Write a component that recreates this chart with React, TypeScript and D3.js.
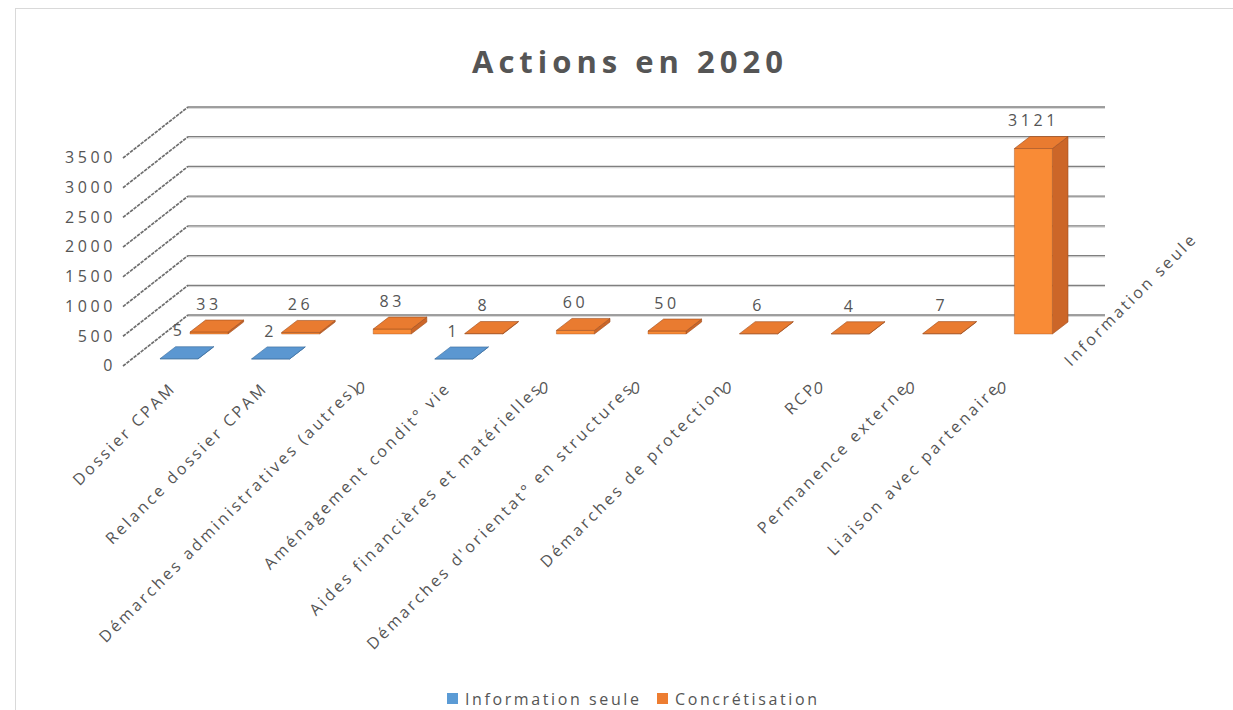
import React from "react";
import * as d3 from "d3";

const categories = [
  "Dossier CPAM",
  "Relance dossier CPAM",
  "Démarches administratives (autres)",
  "Aménagement condit°  vie",
  "Aides financières et matérielles",
  "Démarches d'orientat°  en structures",
  "Démarches de protection",
  "RCP",
  "Permanence externe",
  "Liaison avec partenaire",
];
const infoSeule = [5, 2, 0, 1, 0, 0, 0, 0, 0, 0];
const concretisation = [33, 26, 83, 8, 60, 50, 6, 4, 7, 3121];
const yTicks = [0, 500, 1000, 1500, 2000, 2500, 3000, 3500];
const seriesNames = ["Information seule", "Concrétisation"];

const W = 1233;
const H = 710;
const FONT = "'Open Sans', 'Noto Sans', sans-serif";
const TXT = "#555555";

// back wall vertical scale
const yBack = d3.scaleLinear().domain([0, 3500]).range([315, 107]);
// category position (front-left x of the front row bar)
const xCat = d3.scalePoint<string>().domain(categories).range([160, 160 + 9 * 91.6]);

// depth projection
const WALL_DX = 65;
const WALL_DY = 51;
const wallLeft = 188;
const wallRight = 1105;

const BAR_W = 38;
const BAR_DX = 15.6;
const BAR_DY = 12;

type SeriesStyle = { dx: number; baseY: number; top: string; front: string; side: string; edge: string; name: string; values: number[] };
const series: SeriesStyle[] = [
  { name: seriesNames[1], values: concretisation, dx: 30, baseY: 334, top: "#E97B30", front: "#F98B36", side: "#CC6628", edge: "#9E4E1E" },
  { name: seriesNames[0], values: infoSeule, dx: 0, baseY: 359, top: "#5B97D1", front: "#6AA5DC", side: "#3F77AD", edge: "#38699A" },
];

function pts(a: [number, number][]) {
  return a.map((p) => p.join(",")).join(" ");
}

function Bar({ x, baseY, v, s }: { x: number; baseY: number; v: number; s: SeriesStyle }) {
  if (v === 0) return null;
  const h = yBack(0) - yBack(v);
  const yt = baseY - h;
  const front: [number, number][] = [[x, baseY], [x + BAR_W, baseY], [x + BAR_W, yt], [x, yt]];
  const side: [number, number][] = [[x + BAR_W, baseY], [x + BAR_W + BAR_DX, baseY - BAR_DY], [x + BAR_W + BAR_DX, yt - BAR_DY], [x + BAR_W, yt]];
  const top: [number, number][] = [[x, yt], [x + BAR_W, yt], [x + BAR_W + BAR_DX, yt - BAR_DY], [x + BAR_DX, yt - BAR_DY]];
  return (
    <g>
      <polygon points={pts(side)} fill={s.side} stroke={s.edge} strokeWidth={0.6} strokeLinejoin="round" />
      <polygon points={pts(front)} fill={s.front} stroke={s.edge} strokeWidth={0.4} strokeLinejoin="round" />
      <polygon points={pts(top)} fill={s.top} stroke={s.edge} strokeWidth={0.6} strokeLinejoin="round" />
    </g>
  );
}

export default function App() {
  return (
    <svg width={W} height={H} style={{ position: "absolute", left: 0, top: 0, background: "#fff" }}>
      <rect x={15.5} y={8.5} width={1230} height={720} fill="#fff" stroke="#D9D9D9" strokeWidth={1} />
      <text x={630} y={73} textAnchor="middle" fontFamily={FONT} fontWeight="bold" fontSize={31} letterSpacing={5} fill={TXT}>
        Actions en 2020
      </text>

      {/* back wall gridlines */}
      {yTicks.map((t) => (
        <g key={"g" + t}>
          <line x1={wallLeft} x2={wallRight} y1={yBack(t) + 1.3} y2={yBack(t) + 1.3} stroke="#D0D0D0" strokeWidth={1} />
          <line x1={wallLeft} x2={wallRight} y1={yBack(t)} y2={yBack(t)} stroke="#7F7F7F" strokeWidth={1.3} />
        </g>
      ))}
      {/* side wall gridlines */}
      {yTicks.map((t) => (
        <line
          key={"s" + t}
          x1={wallLeft - WALL_DX}
          y1={yBack(t) + WALL_DY}
          x2={wallLeft}
          y2={yBack(t)}
          stroke="#6E6E6E"
          strokeWidth={1.7}
          strokeDasharray="3.5 1"
        />
      ))}
      {/* y tick labels */}
      {yTicks.map((t) => (
        <text
          key={"t" + t}
          x={116}
          y={yBack(t) + WALL_DY + 1}
          textAnchor="end"
          dominantBaseline="middle"
          fontFamily={FONT}
          fontSize={16}
          letterSpacing={3.6}
          fill={TXT}
        >
          {t}
        </text>
      ))}

      {/* bars */}
      {series.map((s, si) => (
        <g key={"ser" + si}>
          {categories.map((c, i) => (
            <Bar key={c} x={(xCat(c) as number) + s.dx} baseY={s.baseY} v={s.values[i]} s={s} />
          ))}
        </g>
      ))}

      {/* data labels */}
      {series.map((s, si) =>
        categories.map((c, i) => {
          const v = s.values[i];
          const x = (xCat(c) as number) + s.dx + 17;
          const backTop = s.baseY - (yBack(0) - yBack(v)) - BAR_DY;
          const y = si === 1 && v === 0 ? 390 : backTop - 14.5;
          return (
            <text
              key={"l" + si + c}
              x={x + 2}
              y={y}
              textAnchor="middle"
              dominantBaseline="middle"
              fontFamily={FONT}
              fontSize={16}
              letterSpacing={3.6}
              fill={TXT}
            >
              {v}
            </text>
          );
        })
      )}

      {/* category labels */}
      {categories.map((c) => {
        const ax = (xCat(c) as number) + 17;
        const ay = 389;
        return (
          <text
            key={"c" + c}
            transform={`translate(${ax},${ay}) rotate(-45)`}
            textAnchor="end"
            fontFamily={FONT}
            fontSize={16}
            letterSpacing={2.8}
            fill={TXT}
          >
            {c}
          </text>
        );
      })}

      {/* series (depth) axis label */}
      <text
        transform={`translate(1071,367) rotate(-45)`}
        textAnchor="start"
        fontFamily={FONT}
        fontSize={16}
        letterSpacing={2.8}
        fill={TXT}
      >
        {seriesNames[0]}
      </text>

      {/* legend */}
      <g fontFamily={FONT} fontSize={16} letterSpacing={2.6} fill={TXT}>
        <rect x={447} y={693} width={11} height={11} fill="#5B9BD5" />
        <text x={465} y={705}>{seriesNames[0]}</text>
        <rect x={657} y={693} width={11} height={11} fill="#ED7D31" />
        <text x={675} y={705}>{seriesNames[1]}</text>
      </g>
    </svg>
  );
}
